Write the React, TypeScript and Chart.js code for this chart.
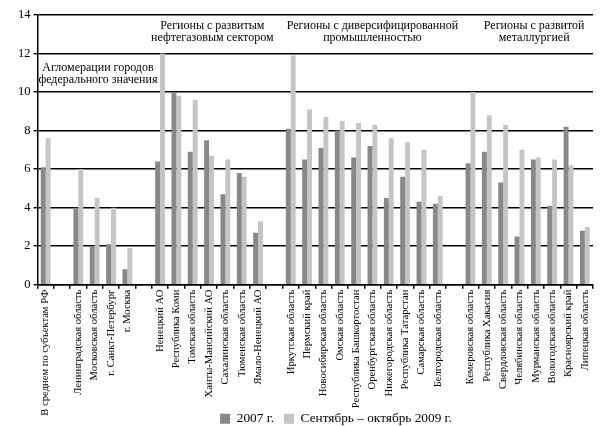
import React, { useEffect, useRef } from "react";
import { Chart, registerables } from "chart.js";

Chart.register(...registerables);

const categories: string[] = [
  "В среднем по субъектам РФ",
  "",
  "Ленинградская область",
  "Московская область",
  "г. Санкт-Петербург",
  "г. Москва",
  "",
  "Ненецкий АО",
  "Республика Коми",
  "Томская область",
  "Ханты-Мансийский АО",
  "Сахалинская область",
  "Тюменская область",
  "Ямало-Ненецкий АО",
  "",
  "Иркутская область",
  "Пермский край",
  "Новосибирская область",
  "Омская область",
  "Республика Башкортостан",
  "Оренбургская область",
  "Нижегородская область",
  "Республика Татарстан",
  "Самарская область",
  "Белгородская область",
  "",
  "Кемеровская область",
  "Республика Хакасия",
  "Свердловская область",
  "Челябинская область",
  "Мурманская область",
  "Вологодская область",
  "Красноярский край",
  "Липецкая область",
];

const values2007: (number | null)[] = [
  6.1, null, 4.0, 2.0, 2.1, 0.8, null,
  6.4, 10.0, 6.9, 7.5, 4.7, 5.8, 2.7, null,
  8.1, 6.5, 7.1, 8.0, 6.6, 7.2, 4.5, 5.6, 4.3, 4.2, null,
  6.3, 6.9, 5.3, 2.5, 6.5, 4.1, 8.2, 2.8,
];

const values2009: (number | null)[] = [
  7.6, null, 6.0, 4.5, 4.0, 1.9, null,
  12.0, 9.8, 9.6, 6.7, 6.5, 5.6, 3.3, null,
  11.9, 9.1, 8.7, 8.5, 8.4, 8.3, 7.6, 7.4, 7.0, 4.6, null,
  10.0, 8.8, 8.3, 7.0, 6.6, 6.5, 6.2, 3.0,
];

const seriesNames: string[] = ["2007 г.", "Сентябрь – октябрь 2009 г."];

const groupLabels: string[][] = [
  ["Агломерации городов", "федерального значения"],
  ["Регионы с развитым", "нефтегазовым сектором"],
  ["Регионы с диверсифицированной", "промышленностью"],
  ["Регионы с развитой", "металлургией"],
];
// position of each group label: category index (centre) and value of the first line
const groupLabelX: number[] = [3.2, 10.2, 20.0, 29.9];
const groupLabelY: number[] = [11.26, 13.45, 13.45, 13.45];

const FONT = "'Liberation Serif', 'Times New Roman', serif";

const groupLabelPlugin = {
  id: "groupLabels",
  afterLayout(chart: any) {
    const lg = chart.legend;
    if (lg) {
      const dx = 32;
      const h = lg.height;
      lg.left += dx;
      lg.right += dx;
      lg.top = 402;
      lg.bottom = 402 + h;
    }
    const xs = chart.scales.x;
    if (xs) xs.bottom = chart.height;
  },
  afterDatasetsDraw(chart: any) {
    const { ctx, scales } = chart;
    const xs = scales.x;
    const ys = scales.y;
    ctx.save();
    ctx.font = `12px ${FONT}`;
    ctx.fillStyle = "#000";
    ctx.textAlign = "center";
    ctx.textBaseline = "middle";
    groupLabels.forEach((lines, i) => {
      const x = xs.getPixelForValue(groupLabelX[i]);
      const y0 = ys.getPixelForValue(groupLabelY[i]);
      lines.forEach((t, j) => {
        ctx.fillText(t, x, y0 + j * 12.5);
      });
    });
    ctx.restore();
  },
};

export default function App() {
  const ref = useRef<HTMLCanvasElement | null>(null);
  useEffect(() => {
    if (!ref.current) return;
    const chart = new Chart(ref.current, {
      type: "bar",
      data: {
        labels: categories,
        datasets: [
          {
            label: seriesNames[0],
            data: values2007,
            backgroundColor: "#888888",
            categoryPercentage: 0.6,
            barPercentage: 1.0,
          },
          {
            label: seriesNames[1],
            data: values2009,
            backgroundColor: "#c5c5c5",
            categoryPercentage: 0.6,
            barPercentage: 1.0,
          },
        ],
      },
      options: {
        animation: false,
        responsive: false,
        maintainAspectRatio: false,
        layout: { padding: { left: 15, right: 8, top: 15, bottom: 0 } },
        plugins: {
          tooltip: { enabled: false },
          legend: {
            position: "bottom",
            labels: {
              boxWidth: 10,
              boxHeight: 10,
              padding: 10,
              color: "#000",
              font: { family: FONT, size: 13.3 },
            },
          },
        },
        scales: {
          x: {
            afterFit: (scale: any) => {
              scale.height = 108;
            },
            grid: {
              display: true,
              drawOnChartArea: false,
              drawTicks: true,
              tickLength: 4,
              color: "#000",
              lineWidth: 1.5,
              offset: true,
            },
            border: { display: true, color: "#000", width: 1.5 },
            ticks: {
              autoSkip: false,
              maxRotation: 90,
              minRotation: 90,
              color: "#000",
              padding: 1,
              font: { family: FONT, size: 10.6 },
            },
          },
          y: {
            min: 0,
            max: 14,
            ticks: {
              stepSize: 2,
              color: "#000",
              padding: 3,
              font: { family: FONT, size: 12.5 },
            },
            grid: {
              color: "#000",
              lineWidth: 1.4,
              tickLength: 4,
            },
            border: { display: true, color: "#000", width: 1.5 },
          },
        },
      },
      plugins: [groupLabelPlugin],
    });
    return () => chart.destroy();
  }, []);
  return (
    <div style={{ position: "fixed", left: 0, top: 0, width: 601, height: 426, background: "#fff" }}>
      <canvas ref={ref} width={601} height={426} style={{ width: 601, height: 426, display: "block" }} />
    </div>
  );
}
